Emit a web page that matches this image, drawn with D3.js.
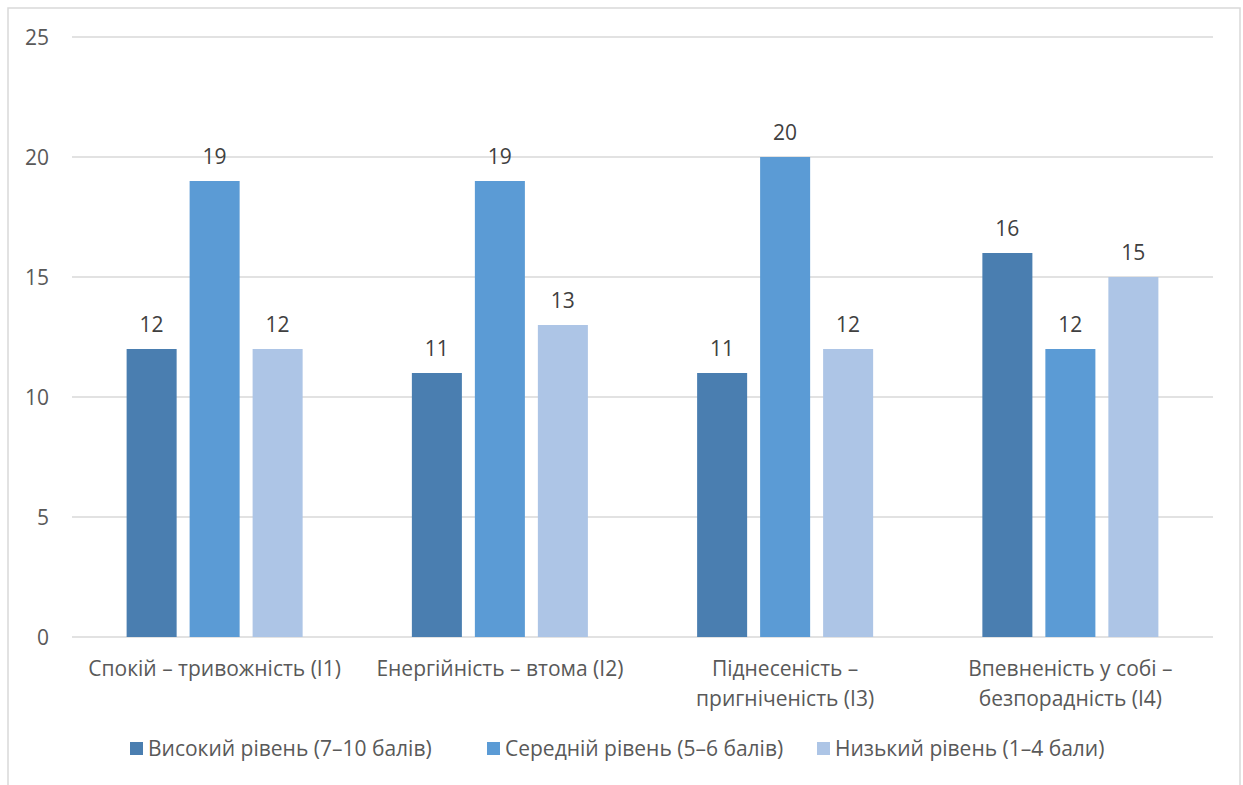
<!DOCTYPE html>
<html>
<head>
<meta charset="utf-8">
<script src="https://cdn.jsdelivr.net/npm/d3@7"></script>
<style>
  html, body { margin: 0; padding: 0; background: #fff; }
  svg { display: block; }
  text { font-family: "Open Sans", "Noto Sans", sans-serif; fill: #595959; }
</style>
</head>
<body>
<svg id="chart" width="1243" height="785"></svg>
<script>
// Categories (each split into display lines) and series
const categories = [
  "Спокій – тривожність (I1)",
  "Енергійність – втома (I2)",
  "Піднесеність – пригніченість (I3)",
  "Впевненість у собі – безпорадність (I4)"
];
const categoryLines = [
  ["Спокій – тривожність (I1)"],
  ["Енергійність – втома (I2)"],
  ["Піднесеність –", "пригніченість (I3)"],
  ["Впевненість у собі –", "безпорадність (I4)"]
];
const seriesNames = [
  "Високий рівень (7–10 балів)",
  "Середній рівень (5–6 балів)",
  "Низький рівень (1–4 бали)"
];
const highLevel = [12, 11, 11, 16];
const midLevel = [19, 19, 20, 12];
const lowLevel = [12, 13, 12, 15];
const yTicks = [0, 5, 10, 15, 20, 25];

const seriesValues = [highLevel, midLevel, lowLevel];
const colors = ["#4A7EB0", "#5B9BD5", "#ADC5E6"];
const FS = 21;

const svg = d3.select("#chart");

// Chart area frame (top, left and right edges)
svg.append("path")
  .attr("d", "M8,785 L8,8 L1240,8 L1240,785")
  .attr("fill", "none")
  .attr("stroke", "#D9D9D9")
  .attr("stroke-width", 1.5);

const plot = { left: 72, right: 1213, top: 37, bottom: 637 };

const y = d3.scaleLinear().domain([0, 25]).range([plot.bottom, plot.top]);
const x0 = d3.scaleBand().domain(categories).range([plot.left, plot.right]).padding(0);
const x1 = d3.scaleBand().domain(seriesNames).range([0, x0.bandwidth()])
  .paddingInner(0.206).paddingOuter(0.867);

// Gridlines
svg.append("g")
  .selectAll("line")
  .data(yTicks)
  .join("line")
  .attr("x1", plot.left).attr("x2", plot.right)
  .attr("y1", d => y(d)).attr("y2", d => y(d))
  .attr("stroke", "#D9D9D9")
  .attr("stroke-width", 1.5);

// Y axis labels
const yAxis = d3.axisLeft(y).tickValues(yTicks).tickSize(0).tickPadding(0);
const yg = svg.append("g").attr("transform", `translate(49,0)`).call(yAxis);
yg.select(".domain").remove();
yg.selectAll("text")
  .attr("font-size", FS)
  .attr("dy", "0.36em")
  .style("font-family", "\"Open Sans\", sans-serif")
  .attr("fill", "#595959");

// Bars
const groups = svg.append("g")
  .selectAll("g")
  .data(categories)
  .join("g")
  .attr("transform", d => `translate(${x0(d)},0)`);

groups.each(function(cat, ci) {
  const g = d3.select(this);
  const rows = seriesNames.map((s, si) => ({ s, si, v: seriesValues[si][ci] }));
  g.selectAll("rect")
    .data(rows)
    .join("rect")
    .attr("x", d => x1(d.s))
    .attr("y", d => y(d.v))
    .attr("width", x1.bandwidth())
    .attr("height", d => y(0) - y(d.v))
    .attr("fill", d => colors[d.si]);
  g.selectAll("text.val")
    .data(rows)
    .join("text")
    .attr("class", "val")
    .attr("x", d => x1(d.s) + x1.bandwidth() / 2)
    .attr("y", d => y(d.v) - 17)
    .attr("text-anchor", "middle")
    .attr("font-size", FS)
    .style("fill", "#404040")
    .text(d => d.v);
});

// Category labels
const xLab = svg.append("g")
  .selectAll("text")
  .data(categories)
  .join("text")
  .attr("x", d => x0(d) + x0.bandwidth() / 2)
  .attr("y", 676)
  .attr("text-anchor", "middle")
  .attr("font-size", FS);
xLab.each(function(d, i) {
  d3.select(this).selectAll("tspan")
    .data(categoryLines[i])
    .join("tspan")
    .attr("x", x0(d) + x0.bandwidth() / 2)
    .attr("dy", (l, j) => j === 0 ? 0 : 30)
    .text(l => l);
});

// Legend
const legendX = [130, 487, 817];
const legend = svg.append("g")
  .selectAll("g")
  .data(seriesNames)
  .join("g")
  .attr("transform", (d, i) => `translate(${legendX[i]},742)`);
legend.append("rect")
  .attr("width", 13).attr("height", 13)
  .attr("fill", (d, i) => colors[i]);
legend.append("text")
  .attr("x", 18).attr("y", 13.5)
  .attr("font-size", FS)
  .text(d => d);
</script>
</body>
</html>
